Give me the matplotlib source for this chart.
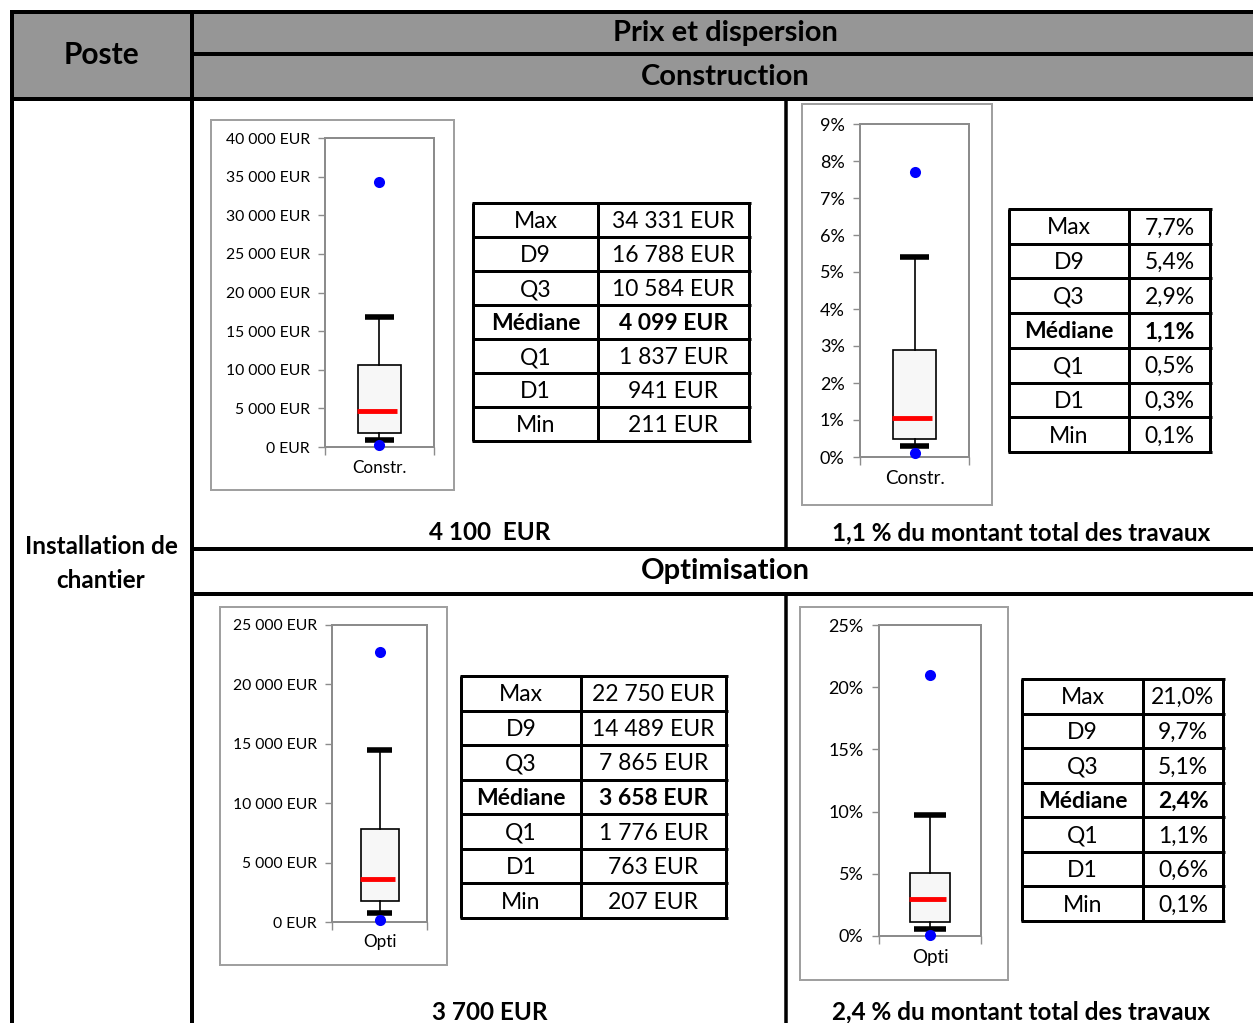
import matplotlib.pyplot as plt
from matplotlib.patches import Rectangle

W, H = 1253, 1023

# stats shown in the tables (top to bottom)
stat_labels = ['Max', 'D9', 'Q3', 'Médiane', 'Q1', 'D1', 'Min']
constr_eur = [34331, 16788, 10584, 4099, 1837, 941, 211]
constr_pct = [7.7, 5.4, 2.9, 1.1, 0.5, 0.3, 0.1]
opti_eur = [22750, 14489, 7865, 3658, 1776, 763, 207]
opti_pct = [21.0, 9.7, 5.1, 2.4, 1.1, 0.6, 0.1]

# red line position as drawn in each small chart
red_constr_eur = 4700
red_constr_pct = 1.05
red_opti_eur = 3658
red_opti_pct = 3.0

eur_ticks_constr = [0, 5000, 10000, 15000, 20000, 25000, 30000, 35000, 40000]
eur_ticks_opti = [0, 5000, 10000, 15000, 20000, 25000]
pct_ticks_constr = [0, 1, 2, 3, 4, 5, 6, 7, 8, 9]
pct_ticks_opti = [0, 5, 10, 15, 20, 25]

summary_constr = ['4 100  EUR', '1,1 % du montant total des travaux']
summary_opti = ['3 700 EUR', '2,4 % du montant total des travaux']

FONT = 'Lato'
GREY = '#969696'
AXGREY = '#8c8c8c'


def px(v):
    # pixels -> points
    return v * 72 / 100


def fmt_eur(v):
    return f"{v:,} EUR".replace(',', ' ')


def fmt_pct(v):
    return f"{v:.1f}%".replace('.', ',')


fig = plt.figure(figsize=(W / 100, H / 100), dpi=100)
bg = fig.add_axes([0, 0, 1, 1])
bg.set_xlim(0, W)
bg.set_ylim(H, 0)
bg.axis('off')


def hline(y, x0, x1, w=4):
    bg.plot([x0, x1], [y, y], color='black', lw=px(w), solid_capstyle='butt')


def vline(x, y0, y1, w=4):
    bg.plot([x, x], [y0, y1], color='black', lw=px(w), solid_capstyle='butt')


# header background
bg.add_patch(Rectangle((12, 12), W - 12, 87, facecolor=GREY, edgecolor='none'))

# main grid
hline(11.5, 10, W)
vline(11.5, 10, H)
vline(192, 10, H)
hline(54, 192, W)
hline(99, 10, W)
hline(548.5, 192, W)
hline(593.5, 192, W)
vline(785.5, 99, 548, w=3.5)
vline(785.5, 593, H, w=3.5)

# header texts
bg.text(101, 55, 'Poste', ha='center', va='center', fontsize=21.5, fontweight='bold', family=FONT)
bg.text(725, 33, 'Prix et dispersion', ha='center', va='center', fontsize=21, fontweight='bold', family=FONT)
bg.text(725, 77, 'Construction', ha='center', va='center', fontsize=21, fontweight='bold', family=FONT)
bg.text(725, 571, 'Optimisation', ha='center', va='center', fontsize=21, fontweight='bold', family=FONT)
bg.text(101, 546, 'Installation de', ha='center', va='center', fontsize=17.5, fontweight='bold', family=FONT)
bg.text(101, 581, 'chantier', ha='center', va='center', fontsize=17.5, fontweight='bold', family=FONT)

bg.text(490, 533, summary_constr[0], ha='center', va='center', fontsize=17.5, fontweight='bold', family=FONT)
bg.text(1021, 533, summary_constr[1], ha='center', va='center', fontsize=17.5, fontweight='bold', family=FONT)
bg.text(490, 1012, summary_opti[0], ha='center', va='center', fontsize=17.5, fontweight='bold', family=FONT)
bg.text(1021, 1012, summary_opti[1], ha='center', va='center', fontsize=17.5, fontweight='bold', family=FONT)


def draw_table(x0, xm, x1, y0, y1, values, fmt):
    n = len(stat_labels)
    rh = (y1 - y0) / n
    for i in range(n + 1):
        hline(y0 + i * rh, x0 - 1.5, x1 + 1.5, w=3)
    vline(x0, y0, y1, w=3)
    vline(xm, y0, y1, w=3)
    vline(x1, y0, y1, w=3)
    for i, (lab, v) in enumerate(zip(stat_labels, values)):
        yc = y0 + rh * (i + 0.5) + 1.5
        wt = 'bold' if lab == 'Médiane' else 'normal'
        bg.text((x0 + xm) / 2, yc, lab, ha='center', va='center', fontsize=16.5, fontweight=wt, family=FONT)
        bg.text((xm + x1) / 2, yc, fmt(v), ha='center', va='center', fontsize=16.5, fontweight=wt, family=FONT)


def draw_box(frame, plot, vals, red, ticks, tick_fmt, cat, tick_fs, cat_fs, box_w=0.4, cap_w=0.26):
    fx0, fy0, fx1, fy1 = frame
    bg.add_patch(Rectangle((fx0, fy0), fx1 - fx0, fy1 - fy0, facecolor='white', edgecolor='#a0a0a0', lw=px(2)))
    x0, y0, x1, y1 = plot
    ax = fig.add_axes([x0 / W, 1 - y1 / H, (x1 - x0) / W, (y1 - y0) / H])
    ax.set_xlim(0, 1)
    ax.set_ylim(ticks[0], ticks[-1])
    for s in ax.spines.values():
        s.set_color(AXGREY)
        s.set_linewidth(px(2))
    ax.set_yticks(ticks)
    ax.set_yticklabels([tick_fmt(t) for t in ticks], family=FONT, fontsize=tick_fs)
    ax.tick_params(axis='y', direction='out', length=5, width=1, color=AXGREY, pad=6)
    ax.set_xticks([0.5])
    ax.set_xticklabels([cat], family=FONT, fontsize=cat_fs)
    ax.tick_params(axis='x', length=0, pad=9)
    ax.set_xticks([0, 1], minor=True)
    ax.tick_params(axis='x', which='minor', direction='out', length=6, width=1, color=AXGREY)

    vmax, d9, q3, med, q1, d1, vmin = vals
    # whiskers
    ax.plot([0.5, 0.5], [q3, d9], color='black', lw=1.2)
    ax.plot([0.5, 0.5], [d1, q1], color='black', lw=1.2)
    ax.plot([0.5 - cap_w / 2, 0.5 + cap_w / 2], [d9, d9], color='black', lw=4, solid_capstyle='butt')
    ax.plot([0.5 - cap_w / 2, 0.5 + cap_w / 2], [d1, d1], color='black', lw=4, solid_capstyle='butt')
    # box
    ax.add_patch(Rectangle((0.5 - box_w / 2, q1), box_w, q3 - q1, facecolor='#f7f7f7', edgecolor='black', lw=1.2))
    ax.plot([0.5 - box_w / 2 - 0.01, 0.5 + box_w / 2 - 0.04], [red, red], color='#ff0000', lw=3.5, solid_capstyle='butt')
    # extremes
    ax.plot([0.5, 0.5], [vmax, vmin], 'o', color='#0000ff', ms=8, mec='none', clip_on=False, zorder=5)
    return ax


# Construction
draw_box((211, 120, 454, 490), (325, 138, 434, 447), constr_eur, red_constr_eur,
         eur_ticks_constr, fmt_eur, 'Constr.', 11.3, 12.3)
draw_table(473, 598, 749, 203, 441, constr_eur, fmt_eur)

draw_box((802, 104, 992, 505), (860, 124, 969, 457), constr_pct, red_constr_pct,
         pct_ticks_constr, lambda t: f"{t}%", 'Constr.', 13, 13.5)
draw_table(1009, 1129, 1210, 209, 452, constr_pct, fmt_pct)

# Optimisation
draw_box((220, 607, 447, 965), (332, 625, 427, 922), opti_eur, red_opti_eur,
         eur_ticks_opti, fmt_eur, 'Opti', 11.3, 12.3)
draw_table(461, 581, 726, 676, 918, opti_eur, fmt_eur)

draw_box((800, 607, 1008, 980), (879, 625, 981, 936), opti_pct, red_opti_pct,
         pct_ticks_opti, lambda t: f"{t}%", 'Opti', 13, 13.5, cap_w=0.32)
draw_table(1022, 1143, 1223, 679, 921, opti_pct, fmt_pct)

fig.savefig('out.png', dpi=100)
